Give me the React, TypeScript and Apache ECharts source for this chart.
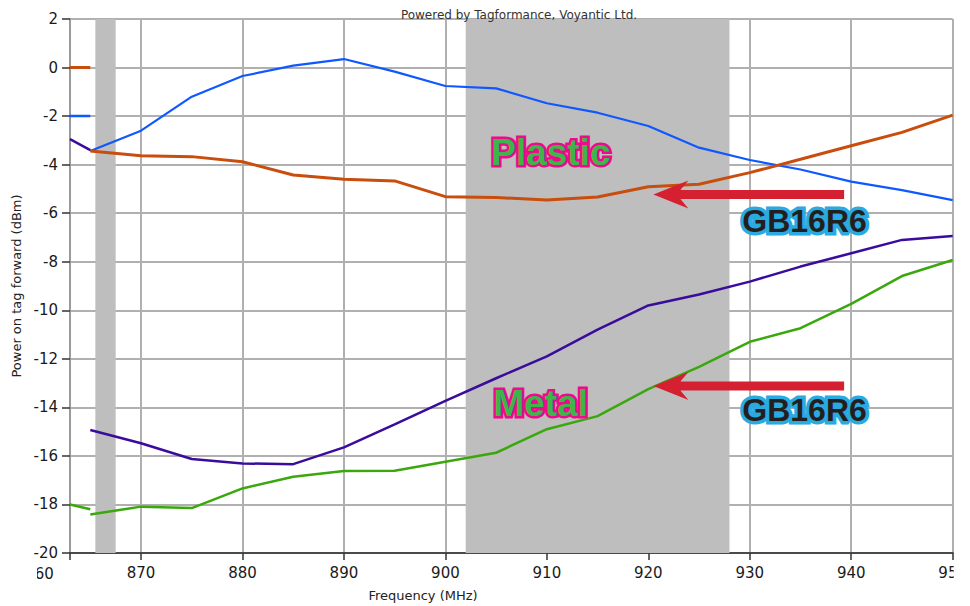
import React, { useEffect, useRef } from 'react';
import * as echarts from 'echarts';

// Frequency axis (MHz)
const xMin = 863;
const xMax = 950;
const xTickValues = [863, 870, 880, 890, 900, 910, 920, 930, 940, 950];
const xLabelValues = [870, 880, 890, 900, 910, 920, 930, 940, 950];

// Power axis (dBm)
const yMin = -20;
const yMax = 2;
const yStep = 2;

// Measured frequencies
const freq = [865, 870, 875, 880, 885, 890, 895, 900, 905, 910, 915, 920, 925, 930, 935, 940, 945, 950];

// Series values (dBm)
const blueSeries = [-3.44, -2.6, -1.2, -0.35, 0.08, 0.35, -0.17, -0.76, -0.86, -1.47, -1.86, -2.41, -3.3, -3.81, -4.2, -4.7, -5.05, -5.46];
const orangeSeries = [-3.44, -3.63, -3.67, -3.88, -4.43, -4.6, -4.67, -5.32, -5.35, -5.46, -5.33, -4.91, -4.81, -4.33, -3.78, -3.22, -2.67, -1.96];
const purpleSeries = [-14.93, -15.48, -16.13, -16.31, -16.34, -15.65, -14.7, -13.73, -12.8, -11.9, -10.8, -9.8, -9.35, -8.82, -8.2, -7.65, -7.1, -6.94];
const greenSeries = [-18.41, -18.09, -18.15, -17.34, -16.86, -16.62, -16.61, -16.24, -15.87, -14.9, -14.36, -13.25, -12.33, -11.3, -10.74, -9.74, -8.59, -7.93];

// Short stubs at the start of the band
const stubFreq = [863, 865];
const orangeStub = [0, 0];
const blueStub = [-2, -2];
const purpleStub = [-2.95, -3.4];
const greenStub = [-18.0, -18.2];

// Shaded frequency bands
const bands = [
  [865.5, 867.5],
  [902.0, 928.0],
];

// Annotations (data coordinates)
const plasticLabel = { text: 'Plastic', at: [910.4, -3.5] };
const metalLabel = { text: 'Metal', at: [909.4, -13.86] };
const gbLabels = [
  { text: 'GB16R6', at: [935.4, -6.32] },
  { text: 'GB16R6', at: [935.4, -14.11] },
];
const arrows = [
  { tip: [920.5, -5.23], tailX: 939.3 },
  { tip: [920.5, -13.12], tailX: 939.3 },
];

const COLORS = {
  blue: '#0f58ff',
  orange: '#c94d0c',
  purple: '#3a0c9c',
  green: '#3aa80c',
  band: '#bebebe',
  grid: '#b0b0b0',
  arrow: '#d42030',
};

const FONT = 'DejaVu Sans';

function pairs(xs: number[], ys: number[]) {
  return xs.map((x, i) => [x, ys[i]]);
}

export default function App() {
  const ref = useRef<HTMLDivElement>(null);

  useEffect(() => {
    document.body.style.margin = '0';
    const chart = echarts.init(ref.current!, null, { renderer: 'svg' });

    const lineSeries = (name: string, data: number[][], color: string, width: number) => ({
      type: 'line',
      name,
      data,
      symbol: 'none',
      silent: true,
      z: 3,
      lineStyle: { color, width },
      itemStyle: { color },
    });

    chart.setOption({
      animation: false,
      grid: { left: 70, right: 15, top: 19, bottom: 53 },
      xAxis: {
        type: 'value',
        min: xMin,
        max: xMax,
        axisLine: { show: true, onZero: false, lineStyle: { color: '#4a4a4a', width: 2 } },
        axisTick: {
          show: true,
          customValues: xTickValues,
          length: 7,
          lineStyle: { color: '#333', width: 1.5 },
        },
        axisLabel: {
          customValues: xLabelValues,
          margin: 12,
          color: '#1a1a1a',
          fontFamily: FONT,
          fontSize: 15,
        },
        splitLine: { show: true, lineStyle: { color: COLORS.grid, width: 2 } },
      },
      yAxis: {
        type: 'value',
        min: yMin,
        max: yMax,
        interval: yStep,
        name: 'Power on tag forward (dBm)',
        nameLocation: 'middle',
        nameGap: 46,
        nameTextStyle: { fontFamily: FONT, fontSize: 13, color: '#222' },
        axisLine: { show: true, lineStyle: { color: '#9a9a9a', width: 2 } },
        axisTick: { show: true, length: 8, lineStyle: { color: '#333', width: 1.5 } },
        axisLabel: { margin: 12, color: '#1a1a1a', fontFamily: FONT, fontSize: 15 },
        splitLine: { show: true, lineStyle: { color: COLORS.grid, width: 2 } },
      },
      series: [
        {
          type: 'line',
          data: [],
          silent: true,
          z: -1,
          markArea: {
            silent: true,
            itemStyle: { color: COLORS.band },
            data: bands.map(([a, b]) => [{ xAxis: a }, { xAxis: b }]),
          },
        },
        lineSeries('blue', pairs(freq, blueSeries), COLORS.blue, 2.2),
        lineSeries('orange', pairs(freq, orangeSeries), COLORS.orange, 3),
        lineSeries('purple', pairs(freq, purpleSeries), COLORS.purple, 2.5),
        lineSeries('green', pairs(freq, greenSeries), COLORS.green, 2.5),
        lineSeries('blueStub', pairs(stubFreq, blueStub), COLORS.blue, 2.5),
        lineSeries('orangeStub', pairs(stubFreq, orangeStub), COLORS.orange, 3),
        lineSeries('purpleStub', pairs(stubFreq, purpleStub), COLORS.purple, 2.5),
        lineSeries('greenStub', pairs(stubFreq, greenStub), COLORS.green, 2.5),
      ],
    });

    const px = (p: number[]) => chart.convertToPixel({ gridIndex: 0 }, p) as number[];

    const graphics: any[] = [];

    graphics.push({
      type: 'text',
      z: 10,
      style: {
        text: 'Powered by Tagformance, Voyantic Ltd.',
        x: 519,
        y: 15,
        align: 'center',
        verticalAlign: 'middle',
        fontFamily: FONT,
        fontSize: 12,
        fill: '#333',
      },
    });

    graphics.push({
      type: 'text',
      z: 10,
      style: {
        text: 'Frequency (MHz)',
        x: 423,
        y: 595,
        align: 'center',
        verticalAlign: 'middle',
        fontFamily: FONT,
        fontSize: 13,
        fill: '#222',
      },
    });

    // partially visible 860 label at the left edge
    const p860 = px([860, yMin]);
    graphics.push({
      type: 'text',
      z: 10,
      style: {
        text: '860',
        x: p860[0],
        y: p860[1] + 13,
        align: 'center',
        verticalAlign: 'top',
        fontFamily: FONT,
        fontSize: 15,
        fill: '#1a1a1a',
      },
    });
    graphics.push({
      type: 'rect',
      z: 11,
      shape: { x: 0, y: p860[1] + 10, width: 37, height: 24 },
      style: { fill: '#fff' },
    });
    const pEnd = px([xMax, yMin]);
    graphics.push({
      type: 'rect',
      z: 11,
      shape: { x: pEnd[0] + 1, y: pEnd[1] + 9, width: 30, height: 26 },
      style: { fill: '#fff' },
    });

    arrows.forEach((a) => {
      const t = px(a.tip);
      const e = px([a.tailX, a.tip[1]]);
      const tx = t[0];
      const ty = t[1];
      const ex = e[0];
      graphics.push({
        type: 'polygon',
        z: 8,
        shape: {
          points: [
            [tx, ty],
            [tx + 35, ty - 14],
            [tx + 27, ty - 4.5],
            [ex, ty - 4.5],
            [ex, ty + 4.5],
            [tx + 27, ty + 4.5],
            [tx + 35, ty + 14],
          ],
        },
        style: { fill: COLORS.arrow },
      });
    });

    const outlined = (text: string, at: number[], fill: string, stroke: string, size: number, sw: number) => {
      const p = px(at);
      const base = {
        text,
        x: p[0],
        y: p[1],
        align: 'center',
        verticalAlign: 'middle',
        fontFamily: 'Liberation Sans',
        fontWeight: 'bold',
        fontSize: size,
      };
      return [
        {
          type: 'text',
          z: 9,
          silent: true,
          style: { ...base, fill: stroke, stroke, lineWidth: sw, lineJoin: 'round' },
        },
        {
          type: 'text',
          z: 9.5,
          style: { ...base, fill },
        },
      ];
    };

    graphics.push(...outlined(plasticLabel.text, plasticLabel.at, '#3db54a', '#ec0b8c', 37, 5));
    graphics.push(...outlined(metalLabel.text, metalLabel.at, '#3db54a', '#ec0b8c', 37, 5));
    gbLabels.forEach((g) => graphics.push(...outlined(g.text, g.at, '#231f20', '#29aae1', 32, 7)));

    chart.setOption({ graphic: graphics });

    return () => {
      chart.dispose();
    };
  }, []);

  return <div ref={ref} style={{ width: 970, height: 606 }} />;
}
